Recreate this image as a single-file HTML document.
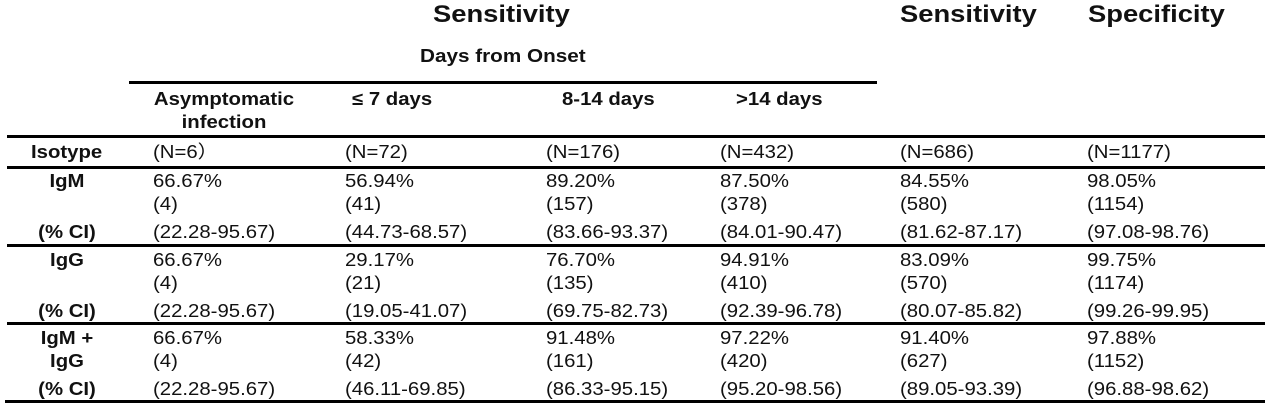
<!DOCTYPE html>
<html><head><style>
body{margin:0;width:1275px;height:416px;background:#fff;position:relative;font-family:"Liberation Sans",Arial,sans-serif;color:#111;overflow:hidden}
.t{position:absolute;white-space:nowrap;font-size:18px;line-height:23px;transform:scaleX(1.13);transform-origin:left top}
.b{font-weight:bold}
.h{position:absolute;font-weight:bold;font-size:24px;line-height:28px;white-space:nowrap;transform:scaleX(1.14);transform-origin:left top}
.l{position:absolute;background:#000}
.c{text-align:center;transform:translateX(-50%) scaleX(1.13);transform-origin:center top}
.s{position:relative;top:5px}
</style></head><body>
<div class="h" style="left:433px;top:1px">Sensitivity</div>
<div class="h" style="left:900px;top:1px">Sensitivity</div>
<div class="h" style="left:1088px;top:1px">Specificity</div>
<div class="t b" style="left:420px;top:45px;transform:scaleX(1.15)">Days from Onset</div>
<div class="l" style="left:129px;top:81px;width:748px;height:3px"></div>
<div class="t b c" style="left:224px;top:88px">Asymptomatic<br>infection</div>
<div class="t b" style="left:352px;top:88px">≤ 7 days</div>
<div class="t b" style="left:562px;top:88px">8-14 days</div>
<div class="t b" style="left:736px;top:88px">&gt;14 days</div>
<div class="l" style="left:7px;top:135px;width:1258px;height:3px"></div>
<div class="t b" style="left:31px;top:141px">Isotype</div>
<div class="l" style="left:7px;top:166px;width:1258px;height:3px"></div>
<div class="l" style="left:7px;top:244px;width:1258px;height:3px"></div>
<div class="l" style="left:7px;top:322px;width:1258px;height:3px"></div>
<div class="l" style="left:5px;top:400px;width:1260px;height:3px"></div>
<div class="t b c" style="left:67px;top:170px">IgM<br><br><span class="s">(% CI)</span></div>
<div class="t b c" style="left:67px;top:249px">IgG<br><br><span class="s">(% CI)</span></div>
<div class="t b c" style="left:67px;top:327px">IgM +<br>IgG<br><span class="s">(% CI)</span></div>
<div class="t" style="left:153px;top:141px">(N=6）</div>
<div class="t" style="left:345px;top:141px">(N=72)</div>
<div class="t" style="left:546px;top:141px">(N=176)</div>
<div class="t" style="left:720px;top:141px">(N=432)</div>
<div class="t" style="left:900px;top:141px">(N=686)</div>
<div class="t" style="left:1087px;top:141px">(N=1177)</div>

<div class="t" style="left:153px;top:170px">66.67%<br>(4)<br><span class="s">(22.28-95.67)</span></div>
<div class="t" style="left:345px;top:170px">56.94%<br>(41)<br><span class="s">(44.73-68.57)</span></div>
<div class="t" style="left:546px;top:170px">89.20%<br>(157)<br><span class="s">(83.66-93.37)</span></div>
<div class="t" style="left:720px;top:170px">87.50%<br>(378)<br><span class="s">(84.01-90.47)</span></div>
<div class="t" style="left:900px;top:170px">84.55%<br>(580)<br><span class="s">(81.62-87.17)</span></div>
<div class="t" style="left:1087px;top:170px">98.05%<br>(1154)<br><span class="s">(97.08-98.76)</span></div>

<div class="t" style="left:153px;top:249px">66.67%<br>(4)<br><span class="s">(22.28-95.67)</span></div>
<div class="t" style="left:345px;top:249px">29.17%<br>(21)<br><span class="s">(19.05-41.07)</span></div>
<div class="t" style="left:546px;top:249px">76.70%<br>(135)<br><span class="s">(69.75-82.73)</span></div>
<div class="t" style="left:720px;top:249px">94.91%<br>(410)<br><span class="s">(92.39-96.78)</span></div>
<div class="t" style="left:900px;top:249px">83.09%<br>(570)<br><span class="s">(80.07-85.82)</span></div>
<div class="t" style="left:1087px;top:249px">99.75%<br>(1174)<br><span class="s">(99.26-99.95)</span></div>

<div class="t" style="left:153px;top:327px">66.67%<br>(4)<br><span class="s">(22.28-95.67)</span></div>
<div class="t" style="left:345px;top:327px">58.33%<br>(42)<br><span class="s">(46.11-69.85)</span></div>
<div class="t" style="left:546px;top:327px">91.48%<br>(161)<br><span class="s">(86.33-95.15)</span></div>
<div class="t" style="left:720px;top:327px">97.22%<br>(420)<br><span class="s">(95.20-98.56)</span></div>
<div class="t" style="left:900px;top:327px">91.40%<br>(627)<br><span class="s">(89.05-93.39)</span></div>
<div class="t" style="left:1087px;top:327px">97.88%<br>(1152)<br><span class="s">(96.88-98.62)</span></div>
</body></html>
